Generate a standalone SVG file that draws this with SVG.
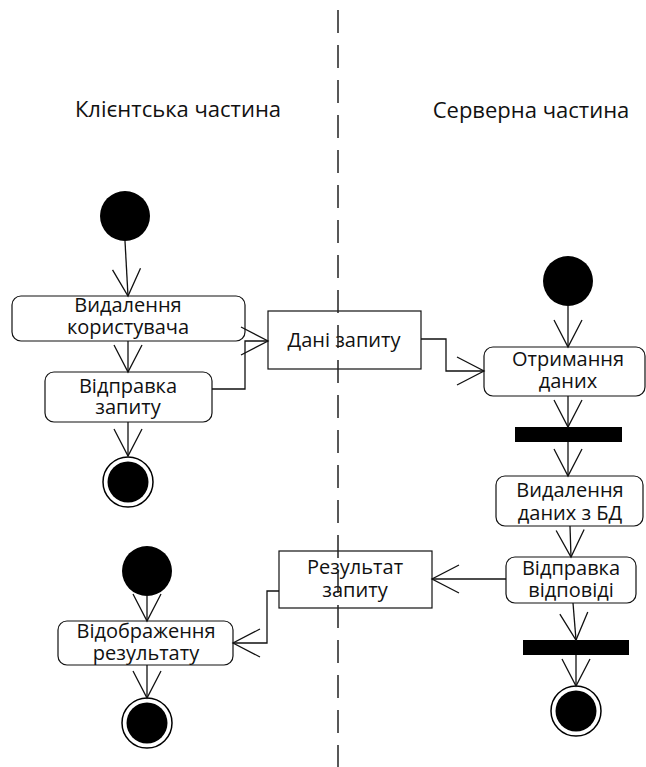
<svg xmlns="http://www.w3.org/2000/svg" width="646" height="767" viewBox="0 0 646 767">
  <style>
    text { font-family: "Open Sans", "Noto Sans", "Liberation Sans", sans-serif; font-size: 20px; fill: #111; text-anchor: middle; }
    .head { font-size: 22px; }
    .act { fill: #fff; stroke: #111; stroke-width: 1.2; }
    .obj { fill: #fff; stroke: #111; stroke-width: 1.2; }
    .start { fill: #000; }
    .ring { fill: #fff; stroke: #000; stroke-width: 1.5; }
    .bar { fill: #000; }
    .flow { fill: none; stroke: #111; stroke-width: 1.3; marker-end: url(#open); }
    .lane { fill: none; stroke: #222; stroke-width: 1.5; stroke-dasharray: 23 12; }
  </style>
  <defs>
    <marker id="open" markerUnits="userSpaceOnUse" viewBox="0 0 28 30" refX="27" refY="15" markerWidth="28" markerHeight="30" orient="auto" overflow="visible">
      <path d="M0,1 L27,15 L0,29" fill="none" stroke="#111" stroke-width="1.3"/>
    </marker>
  </defs>

  <!-- lane titles -->
  <text class="head" x="178" y="117">Клієнтська частина</text>
  <text class="head" x="531" y="118">Серверна частина</text>

  <!-- client side -->
  <g id="client-start">
    <circle class="start" cx="125" cy="216" r="25"/>
  </g>
  <g id="delete-user">
    <rect class="act" x="12" y="296" width="233" height="45" rx="9"/>
    <text x="128" y="312">Видалення</text>
    <text x="128" y="334">користувача</text>
  </g>
  <g id="send-request">
    <rect class="act" x="45" y="372" width="167" height="50" rx="9"/>
    <text x="128" y="393">Відправка</text>
    <text x="128" y="414">запиту</text>
  </g>
  <g id="client-end">
    <circle class="ring" cx="128" cy="482" r="25"/>
    <circle class="start" cx="128" cy="482" r="20.5"/>
  </g>

  <g id="request-data">
    <rect class="obj" x="268" y="311" width="153" height="58"/>
    <text x="344" y="347">Дані запиту</text>
  </g>

  <g id="client-start-2">
    <circle class="start" cx="147" cy="571" r="25"/>
  </g>
  <g id="show-result">
    <rect class="act" x="58" y="621" width="175" height="44" rx="9"/>
    <text x="146" y="638">Відображення</text>
    <text x="146" y="660">результату</text>
  </g>
  <g id="client-end-2">
    <circle class="ring" cx="147" cy="723" r="25"/>
    <circle class="start" cx="147" cy="723" r="20.5"/>
  </g>

  <g id="request-result">
    <rect class="obj" x="279" y="551" width="153" height="57"/>
    <text x="355" y="574">Результат</text>
    <text x="355" y="597">запиту</text>
  </g>

  <!-- server side -->
  <g id="server-start">
    <circle class="start" cx="568" cy="281" r="25"/>
  </g>
  <g id="receive-data">
    <rect class="act" x="484" y="347" width="161" height="49" rx="9"/>
    <text x="568" y="366">Отримання</text>
    <text x="568" y="388">даних</text>
  </g>
  <g id="fork-1">
    <rect class="bar" x="515" y="427" width="107" height="15"/>
  </g>
  <g id="delete-db-data">
    <rect class="act" x="496" y="476" width="147" height="50" rx="9"/>
    <text x="570" y="497">Видалення</text>
    <text x="570" y="520">даних з БД</text>
  </g>
  <g id="send-response">
    <rect class="act" x="506" y="557" width="130" height="46" rx="9"/>
    <text x="571" y="575">Відправка</text>
    <text x="571" y="597">відповіді</text>
  </g>
  <g id="fork-2">
    <rect class="bar" x="523" y="640" width="106" height="15"/>
  </g>
  <g id="server-end">
    <circle class="ring" cx="576" cy="711" r="25"/>
    <circle class="start" cx="576" cy="711" r="20.5"/>
  </g>

  <!-- control and object flows -->
  <g id="connectors">
    <path class="flow" d="M125,241 L128,296"/>
    <path class="flow" d="M128,341 L128,372"/>
    <path class="flow" d="M128,422 L128,456"/>
    <path class="flow" d="M212,389 H245 V341 H268"/>
    <path class="flow" d="M421,339 H446 V371 H484"/>
    <path class="flow" d="M568,306 L568,347"/>
    <path class="flow" d="M568,396 L568,427"/>
    <path class="flow" d="M568,442 L568,476"/>
    <path class="flow" d="M570,526 L571,557"/>
    <path class="flow" d="M573,603 L576,640"/>
    <path class="flow" d="M576,655 L576,686"/>
    <path class="flow" d="M506,579 H432"/>
    <path class="flow" d="M279,591 H267 V643 H233"/>
    <path class="flow" d="M147,596 L147,621"/>
    <path class="flow" d="M147,665 L147,698"/>
  </g>

  <!-- swimlane divider -->
  <line class="lane" x1="338" y1="10" x2="338" y2="767"/>
</svg>
